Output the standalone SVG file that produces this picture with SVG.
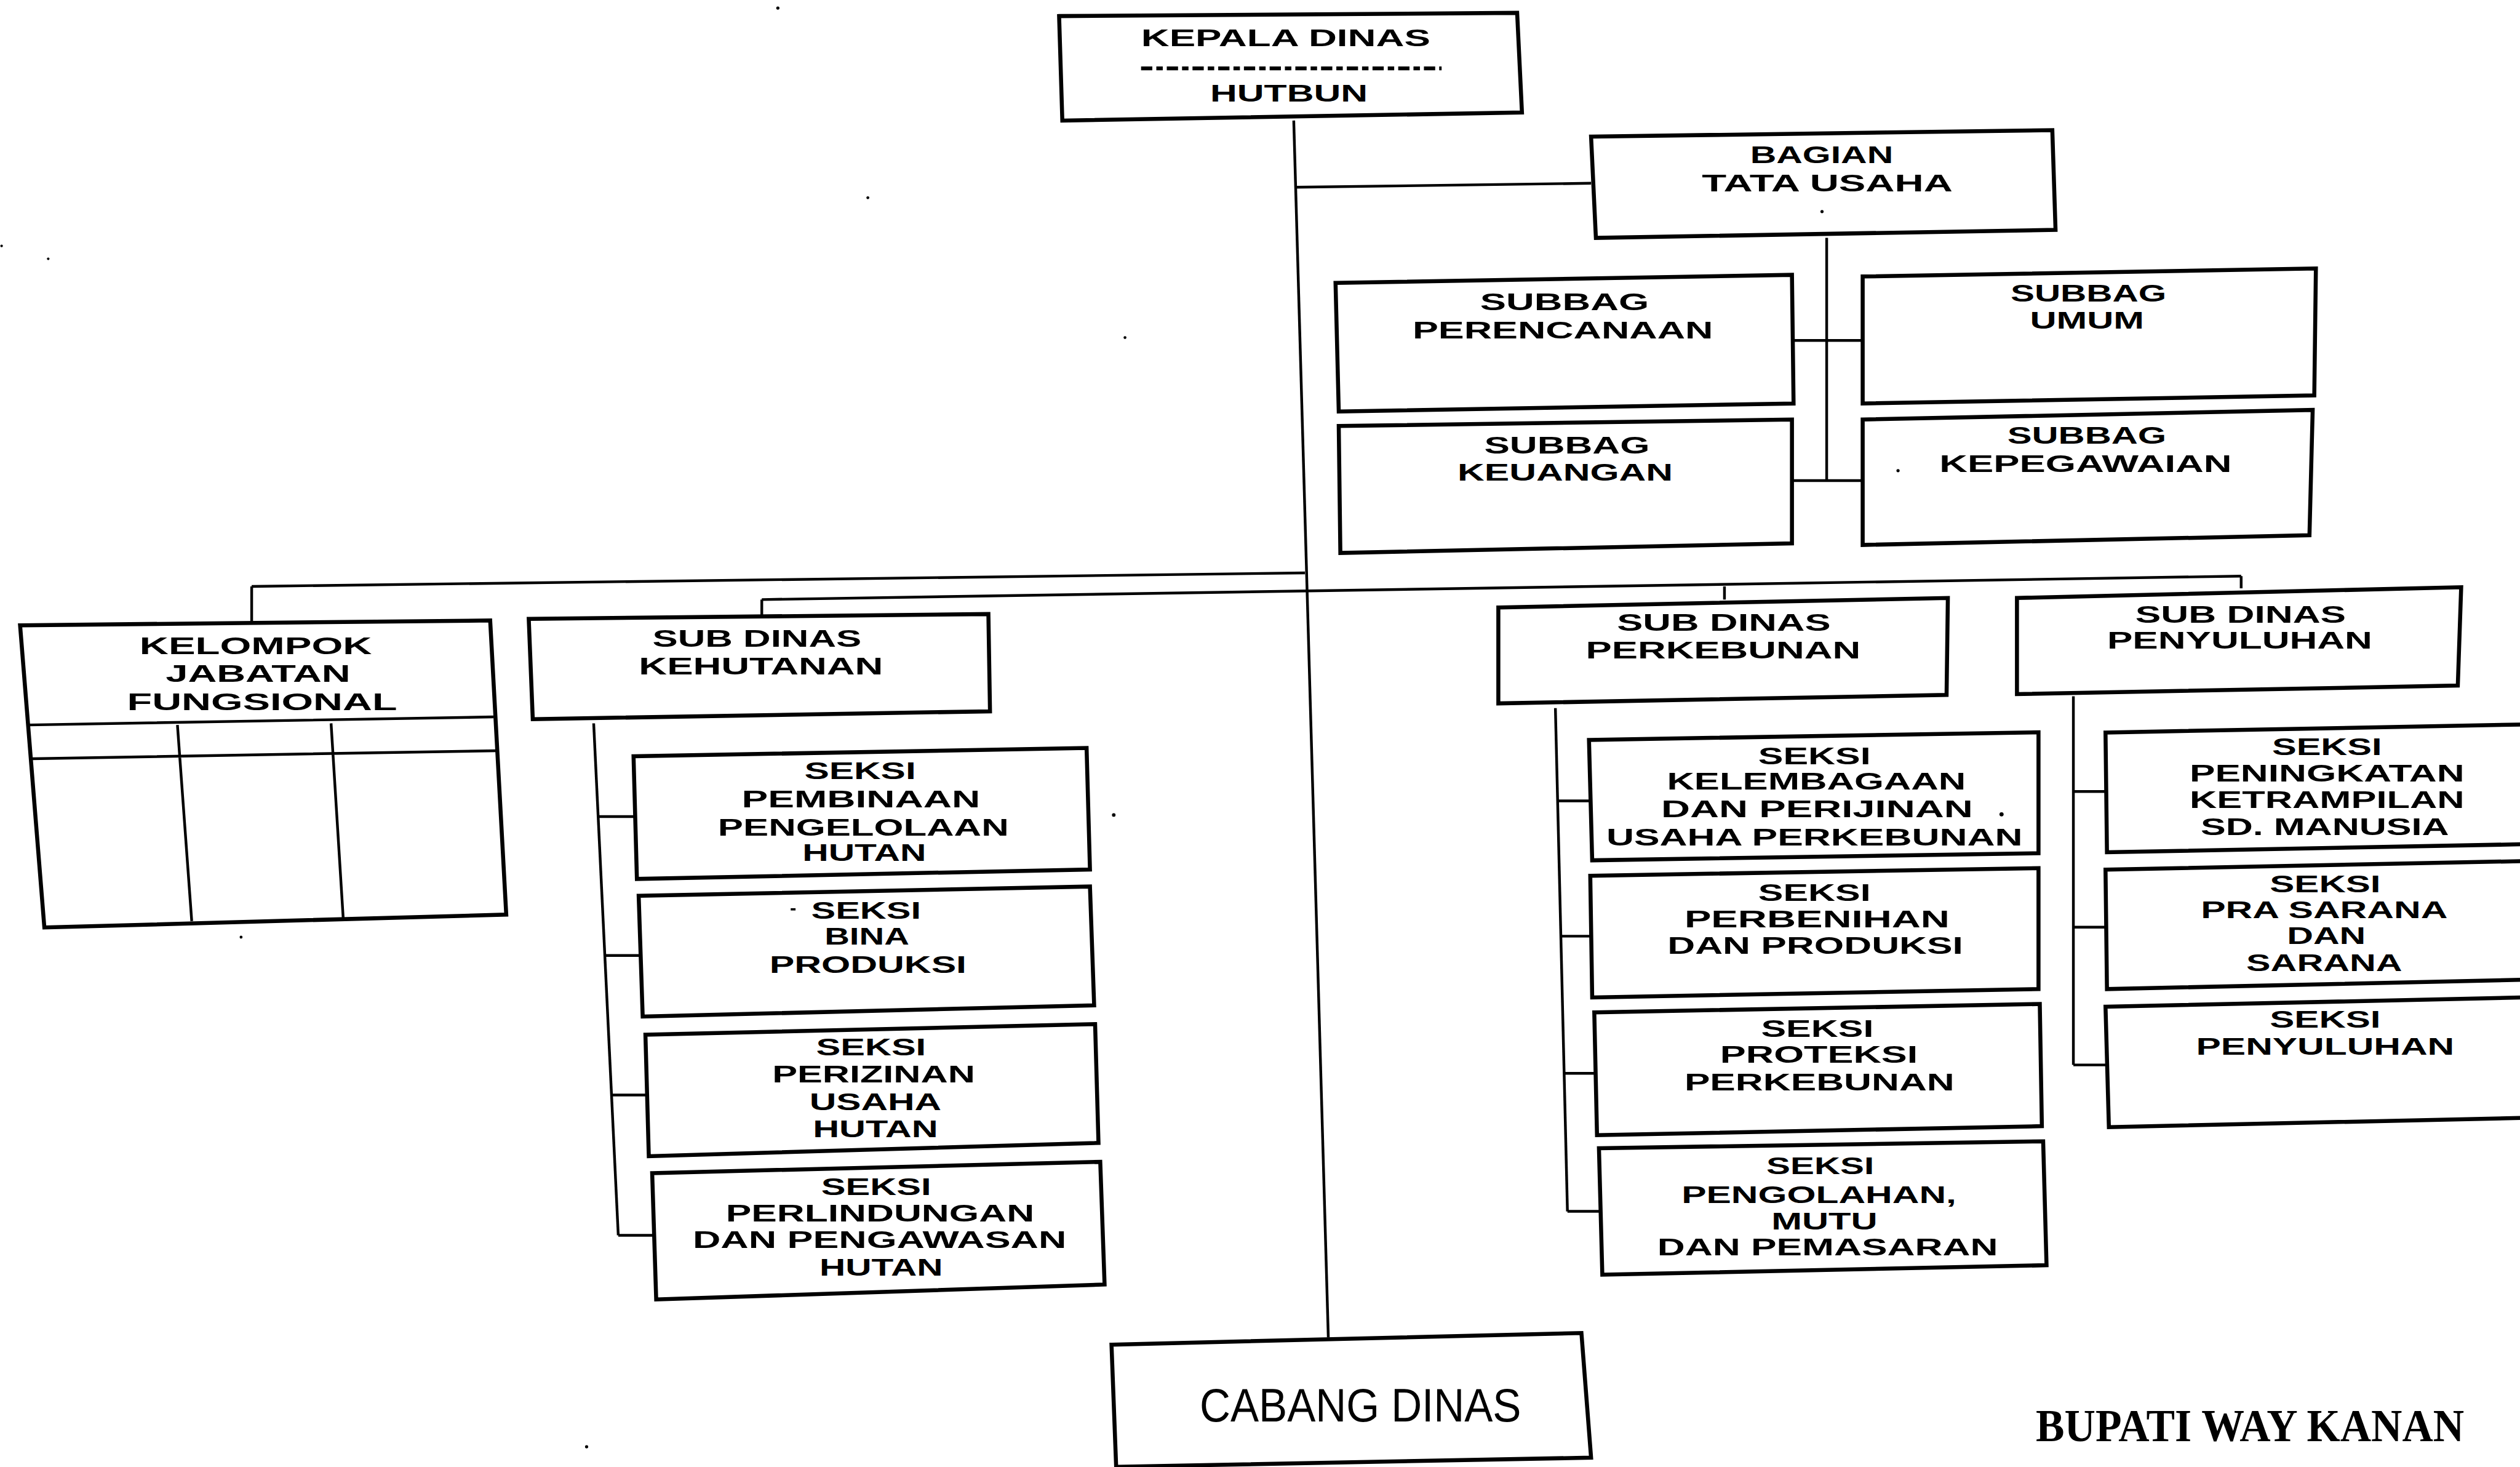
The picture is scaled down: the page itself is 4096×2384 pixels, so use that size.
<svg xmlns="http://www.w3.org/2000/svg" width="4096" height="2384" viewBox="0 0 4096 2384">
  <defs>
    <style>
      .box { fill: #fff; stroke: #000; stroke-width: 2.5; stroke-linejoin: miter; }
      .ln { fill: none; stroke: #000; stroke-width: 1.7; }
      .div { fill: none; stroke: #000; stroke-width: 1.7; }
      .t { font-family: "Liberation Sans", Arial, sans-serif; font-weight: bold; font-size: 14.5px; text-anchor: middle; fill: #000; }
      .cab { font-family: "Liberation Sans", Arial, sans-serif; font-size: 29px; text-anchor: middle; fill: #000; }
      .sig { font-family: "Liberation Serif", "Times New Roman", serif; font-weight: bold; font-size: 28.5px; text-anchor: middle; fill: #000; }
      .speck { fill: #000; }
    </style>
  </defs>
  <rect width="4096" height="2384" fill="#fff"/>
  <!-- drawing laid out in 1568-wide units, scaled up to the page -->
  <g transform="scale(2.6122449)">

    <g id="connectors">
      <path class="ln" d="M805,75 L826.5,832"/>
      <path class="ln" d="M806.5,116.5 L990,114"/>
      <path class="ln" d="M1136.6,148 L1136.6,299"/>
      <path class="ln" d="M1116,211.8 L1159,211.8"/>
      <path class="ln" d="M1115,299 L1159,299"/>
      <path class="ln" d="M156.6,364.8 L812,356.4"/>
      <path class="ln" d="M156.6,364.8 L156.6,388"/>
      <path class="ln" d="M474,373 L1394.5,358.4"/>
      <path class="ln" d="M474,373 L474,384"/>
      <path class="ln" d="M1073,364.8 L1073,373"/>
      <path class="ln" d="M1394.5,358.4 L1394.5,366"/>
      <path class="ln" d="M369.4,450 L384.7,768.5"/>
      <path class="ln" d="M372.2,508 L395.3,508"/>
      <path class="ln" d="M376.3,594.4 L398.6,594.4"/>
      <path class="ln" d="M380.5,681.2 L402.8,681.2"/>
      <path class="ln" d="M384.7,768.5 L407,768.5"/>
      <path class="ln" d="M967.8,440.5 L975.3,753.6"/>
      <path class="ln" d="M969.2,498.2 L989.5,498.2"/>
      <path class="ln" d="M971.2,582.4 L990,582.4"/>
      <path class="ln" d="M973.2,667.7 L992.8,667.7"/>
      <path class="ln" d="M975.3,753.6 L996,753.6"/>
      <path class="ln" d="M1290.1,433.2 L1290.1,662.5"/>
      <path class="ln" d="M1290.1,492.4 L1310.5,492.4"/>
      <path class="ln" d="M1290.1,576.8 L1310.5,576.8"/>
      <path class="ln" d="M1290.1,662.5 L1311,662.5"/>
    </g>

    <g id="kepala-dinas">
      <polygon class="box" points="659,10 944,8 947,70 661,75"/>
      <text class="t" x="800" y="28.8" textLength="180" lengthAdjust="spacingAndGlyphs">KEPALA DINAS</text>
      <path d="M710,42.5 L897,42.5" fill="none" stroke="#000" stroke-width="2.4" stroke-dasharray="7 2.5 4 2.5"/>
      <text class="t" x="802" y="63" textLength="98" lengthAdjust="spacingAndGlyphs">HUTBUN</text>
    </g>

    <g id="bagian-tata-usaha">
      <polygon class="box" points="990,85 1277,81 1279,143 993,148"/>
      <text class="t" x="1133.5" y="101.3" textLength="89" lengthAdjust="spacingAndGlyphs">BAGIAN</text>
      <text class="t" x="1137" y="119" textLength="156" lengthAdjust="spacingAndGlyphs">TATA USAHA</text>
    </g>

    <g id="subbag-perencanaan">
      <polygon class="box" points="831,176 1115,171 1116,251 833,256"/>
      <text class="t" x="973.5" y="193" textLength="105" lengthAdjust="spacingAndGlyphs">SUBBAG</text>
      <text class="t" x="972.4" y="210.5" textLength="187" lengthAdjust="spacingAndGlyphs">PERENCANAAN</text>
    </g>

    <g id="subbag-umum">
      <polygon class="box" points="1159,172 1441,167 1440,246 1159,251"/>
      <text class="t" x="1299.5" y="187.7" textLength="97" lengthAdjust="spacingAndGlyphs">SUBBAG</text>
      <text class="t" x="1298.6" y="204.3" textLength="71" lengthAdjust="spacingAndGlyphs">UMUM</text>
    </g>

    <g id="subbag-keuangan">
      <polygon class="box" points="833,265 1115,261 1115,338 834,344"/>
      <text class="t" x="975" y="282" textLength="103" lengthAdjust="spacingAndGlyphs">SUBBAG</text>
      <text class="t" x="973.9" y="299" textLength="134" lengthAdjust="spacingAndGlyphs">KEUANGAN</text>
    </g>

    <g id="subbag-kepegawaian">
      <polygon class="box" points="1159,261 1439,255 1437,333 1159,339"/>
      <text class="t" x="1298.5" y="276" textLength="99" lengthAdjust="spacingAndGlyphs">SUBBAG</text>
      <text class="t" x="1297.7" y="293.7" textLength="182" lengthAdjust="spacingAndGlyphs">KEPEGAWAIAN</text>
    </g>

    <g id="kelompok-jabatan-fungsional">
      <polygon class="box" points="12.5,389 305,386 315,569 27.6,577"/>
      <path class="div" d="M17.8,451 L307,446 M20,472 L309,467 M110.4,451 L119.3,573 M206,450 L213.6,572"/>
      <text class="t" x="159.1" y="407" textLength="144.6" lengthAdjust="spacingAndGlyphs">KELOMPOK</text>
      <text class="t" x="160.6" y="424" textLength="115" lengthAdjust="spacingAndGlyphs">JABATAN</text>
      <text class="t" x="163.1" y="441.7" textLength="168" lengthAdjust="spacingAndGlyphs">FUNGSIONAL</text>
    </g>

    <g id="sub-dinas-kehutanan">
      <polygon class="box" points="329,385 615,382 616,442.5 331.5,447.4"/>
      <text class="t" x="471" y="402.5" textLength="130" lengthAdjust="spacingAndGlyphs">SUB DINAS</text>
      <text class="t" x="473.5" y="419.4" textLength="152" lengthAdjust="spacingAndGlyphs">KEHUTANAN</text>
    </g>

    <g id="seksi-pembinaan-pengelolaan-hutan">
      <polygon class="box" points="394.2,470.5 676.1,465.3 678.2,540.9 396.3,546.8"/>
      <text class="t" x="535.2" y="484.6" textLength="69.4" lengthAdjust="spacingAndGlyphs">SEKSI</text>
      <text class="t" x="535.7" y="502.2" textLength="148.4" lengthAdjust="spacingAndGlyphs">PEMBINAAN</text>
      <text class="t" x="537.2" y="519.8" textLength="181" lengthAdjust="spacingAndGlyphs">PENGELOLAAN</text>
      <text class="t" x="537.8" y="535.5" textLength="77" lengthAdjust="spacingAndGlyphs">HUTAN</text>
    </g>

    <g id="seksi-bina-produksi">
      <polygon class="box" points="397.4,557.3 678.2,551.5 680.8,625.4 399.9,632.4"/>
      <text class="t" x="538.9" y="571.4" textLength="68.3" lengthAdjust="spacingAndGlyphs">SEKSI</text>
      <text class="t" x="539.4" y="587.8" textLength="52.7" lengthAdjust="spacingAndGlyphs">BINA</text>
      <text class="t" x="540.1" y="605.4" textLength="122.6" lengthAdjust="spacingAndGlyphs">PRODUKSI</text>
    </g>

    <g id="seksi-perizinan-usaha-hutan">
      <polygon class="box" points="401.6,643.7 681.4,637.1 683.5,711 403.7,719.3"/>
      <text class="t" x="542" y="656.5" textLength="68.4" lengthAdjust="spacingAndGlyphs">SEKSI</text>
      <text class="t" x="543.6" y="673.3" textLength="126.2" lengthAdjust="spacingAndGlyphs">PERIZINAN</text>
      <text class="t" x="544.7" y="690.5" textLength="82.1" lengthAdjust="spacingAndGlyphs">USAHA</text>
      <text class="t" x="544.7" y="707.3" textLength="77.9" lengthAdjust="spacingAndGlyphs">HUTAN</text>
    </g>

    <g id="seksi-perlindungan-pengawasan-hutan">
      <polygon class="box" points="405.8,729.8 684.6,722.8 687.3,799.1 408.3,808.4"/>
      <text class="t" x="545.2" y="743.5" textLength="68.4" lengthAdjust="spacingAndGlyphs">SEKSI</text>
      <text class="t" x="547.6" y="760" textLength="191.9" lengthAdjust="spacingAndGlyphs">PERLINDUNGAN</text>
      <text class="t" x="547.3" y="776.5" textLength="232.5" lengthAdjust="spacingAndGlyphs">DAN PENGAWASAN</text>
      <text class="t" x="548.3" y="793.5" textLength="76.7" lengthAdjust="spacingAndGlyphs">HUTAN</text>
    </g>

    <g id="sub-dinas-perkebunan">
      <polygon class="box" points="932.3,377.9 1212,372 1211.2,432.3 932.3,437.6"/>
      <text class="t" x="1072.6" y="392.4" textLength="133" lengthAdjust="spacingAndGlyphs">SUB DINAS</text>
      <text class="t" x="1072.2" y="409.5" textLength="171" lengthAdjust="spacingAndGlyphs">PERKEBUNAN</text>
    </g>

    <g id="seksi-kelembagaan-perijinan">
      <polygon class="box" points="988.7,460.3 1268.4,455.6 1268.4,530.8 990.7,535.2"/>
      <text class="t" x="1129" y="475.3" textLength="70" lengthAdjust="spacingAndGlyphs">SEKSI</text>
      <text class="t" x="1130.2" y="491.3" textLength="186" lengthAdjust="spacingAndGlyphs">KELEMBAGAAN</text>
      <text class="t" x="1130.6" y="508.5" textLength="194" lengthAdjust="spacingAndGlyphs">DAN PERIJINAN</text>
      <text class="t" x="1129" y="525.8" textLength="259" lengthAdjust="spacingAndGlyphs">USAHA PERKEBUNAN</text>
    </g>

    <g id="seksi-perbenihan-produksi">
      <polygon class="box" points="989.5,544.8 1268.4,540.1 1268.4,615.3 990.7,620.5"/>
      <text class="t" x="1129" y="560.3" textLength="70" lengthAdjust="spacingAndGlyphs">SEKSI</text>
      <text class="t" x="1130.6" y="576.8" textLength="165" lengthAdjust="spacingAndGlyphs">PERBENIHAN</text>
      <text class="t" x="1129.5" y="593.5" textLength="184" lengthAdjust="spacingAndGlyphs">DAN PRODUKSI</text>
    </g>

    <g id="seksi-proteksi-perkebunan">
      <polygon class="box" points="992,629.8 1269.2,624.6 1270.5,700.6 993.7,706.2"/>
      <text class="t" x="1130.8" y="645" textLength="70" lengthAdjust="spacingAndGlyphs">SEKSI</text>
      <text class="t" x="1131.8" y="661.3" textLength="123" lengthAdjust="spacingAndGlyphs">PROTEKSI</text>
      <text class="t" x="1132.1" y="678.5" textLength="168" lengthAdjust="spacingAndGlyphs">PERKEBUNAN</text>
    </g>

    <g id="seksi-pengolahan-mutu-pemasaran">
      <polygon class="box" points="994.9,714.3 1271.3,710 1273.4,787.1 997,793"/>
      <text class="t" x="1132.6" y="730.5" textLength="67" lengthAdjust="spacingAndGlyphs">SEKSI</text>
      <text class="t" x="1131.8" y="748.3" textLength="171" lengthAdjust="spacingAndGlyphs">PENGOLAHAN,</text>
      <text class="t" x="1135.2" y="764.7" textLength="66" lengthAdjust="spacingAndGlyphs">MUTU</text>
      <text class="t" x="1137.2" y="781" textLength="212" lengthAdjust="spacingAndGlyphs">DAN PEMASARAN</text>
    </g>

    <g id="sub-dinas-penyuluhan">
      <polygon class="box" points="1255,372 1531.4,365.3 1529.3,426.5 1255,431.8"/>
      <text class="t" x="1394.2" y="387.3" textLength="131" lengthAdjust="spacingAndGlyphs">SUB DINAS</text>
      <text class="t" x="1393.6" y="403.6" textLength="165" lengthAdjust="spacingAndGlyphs">PENYULUHAN</text>
    </g>

    <g id="seksi-peningkatan-ketrampilan">
      <polygon class="box" points="1310.1,455.7 1580,450.5 1580,525 1311,530.2"/>
      <text class="t" x="1447.9" y="469.8" textLength="68.4" lengthAdjust="spacingAndGlyphs">SEKSI</text>
      <text class="t" x="1447.9" y="486.3" textLength="171" lengthAdjust="spacingAndGlyphs">PENINGKATAN</text>
      <text class="t" x="1447.9" y="502.6" textLength="171" lengthAdjust="spacingAndGlyphs">KETRAMPILAN</text>
      <text class="t" x="1446.6" y="519.4" textLength="154.5" lengthAdjust="spacingAndGlyphs">SD. MANUSIA</text>
    </g>

    <g id="seksi-prasarana-sarana">
      <polygon class="box" points="1310.1,541 1580,535.5 1580,609.3 1311,615.3"/>
      <text class="t" x="1446.8" y="555" textLength="69" lengthAdjust="spacingAndGlyphs">SEKSI</text>
      <text class="t" x="1446.2" y="571" textLength="153.6" lengthAdjust="spacingAndGlyphs">PRA SARANA</text>
      <text class="t" x="1447.5" y="587.4" textLength="49" lengthAdjust="spacingAndGlyphs">DAN</text>
      <text class="t" x="1446.2" y="604.2" textLength="97" lengthAdjust="spacingAndGlyphs">SARANA</text>
    </g>

    <g id="seksi-penyuluhan">
      <polygon class="box" points="1310.1,626.3 1580,620.3 1580,695.2 1312.2,701.2"/>
      <text class="t" x="1446.8" y="639.2" textLength="69" lengthAdjust="spacingAndGlyphs">SEKSI</text>
      <text class="t" x="1446.8" y="656" textLength="160.7" lengthAdjust="spacingAndGlyphs">PENYULUHAN</text>
    </g>

    <g id="cabang-dinas">
      <polygon class="box" points="691.6,836.5 984,829.3 990,906.8 694.5,912.5"/>
      <text class="cab" x="846.5" y="884.3" textLength="200" lengthAdjust="spacingAndGlyphs">CABANG DINAS</text>
    </g>

    <g id="signature">
      <text class="sig" x="1400" y="896.6" textLength="266.5" lengthAdjust="spacingAndGlyphs">BUPATI WAY KANAN</text>
    </g>

    <!-- loose specks on the sheet -->
    <g id="specks">
      <circle class="speck" cx="484" cy="5" r="1"/>
      <circle class="speck" cx="540" cy="123" r="0.9"/>
      <circle class="speck" cx="700" cy="210" r="0.9"/>
      <circle class="speck" cx="1" cy="153" r="0.8"/>
      <circle class="speck" cx="30" cy="161" r="0.8"/>
      <circle class="speck" cx="150" cy="583" r="0.9"/>
      <circle class="speck" cx="365" cy="900" r="1"/>
      <circle class="speck" cx="693" cy="507" r="1.1"/>
      <circle class="speck" cx="1133.7" cy="131.6" r="1"/>
      <circle class="speck" cx="1181" cy="292.8" r="1"/>
      <circle class="speck" cx="1245.4" cy="506.6" r="1.3"/>
      <rect class="speck" x="492" y="565" width="3" height="1.4"/>
    </g>
  </g>
</svg>
